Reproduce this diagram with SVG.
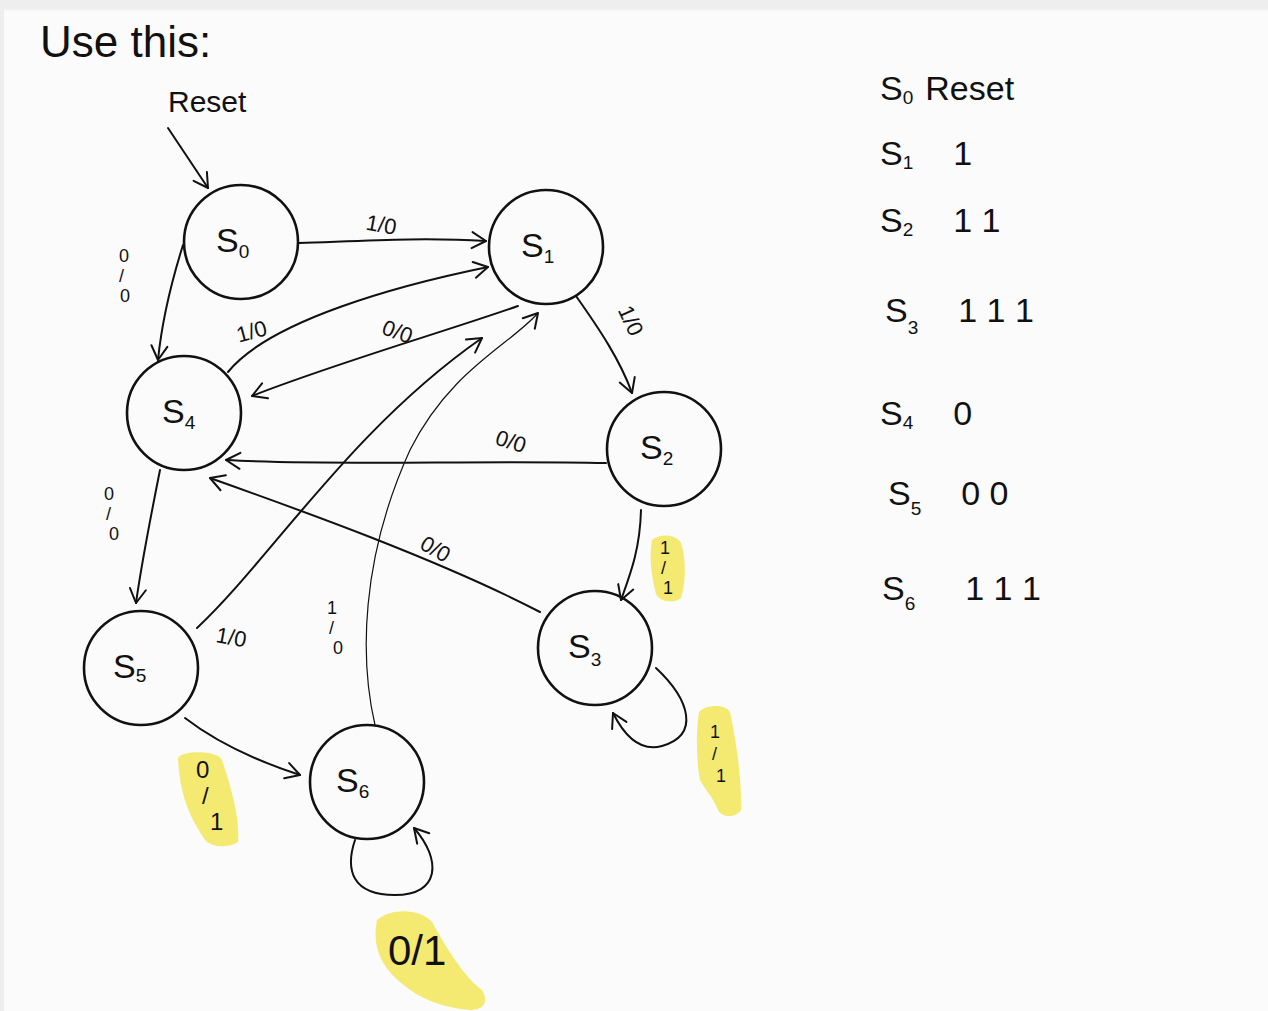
<svg xmlns="http://www.w3.org/2000/svg" width="1268" height="1011" viewBox="0 0 1268 1011">
  <style>
    .hand { font-family: "Liberation Sans", "DejaVu Sans", sans-serif; fill: #111; }
    .state { fill: none; stroke: #111; stroke-width: 2.6; }
    .name { font-size: 34px; }
    .sub { font-size: 19px; }
    .lbl { font-size: 22px; }
    .frac { font-size: 18px; }
    .edge { fill: none; stroke: #111; stroke-width: 2; stroke-linecap: round; stroke-linejoin: round; }
    .thin { stroke-width: 1.2; }
    .hl { fill: #f4ea72; }
    .tbl { font-size: 34px; }
  </style>
  <defs>
    <marker id="open" viewBox="-16 -10 20 20" markerWidth="20" markerHeight="20" refX="0" refY="0" orient="auto" markerUnits="userSpaceOnUse">
      <path d="M-14,-8 L0,0 L-14,8" fill="none" stroke="#111" stroke-width="2" stroke-linecap="round" stroke-linejoin="round"/>
    </marker>
  </defs>

  <!-- page -->
  <rect width="1268" height="1011" fill="#fbfbfb"/>
  <rect width="1268" height="9" fill="#eeeeee"/>
  <rect y="9" width="1268" height="2" fill="#f6f6f6"/>
  <rect width="4" height="1011" fill="#eeeeee"/>

  <!-- highlighter strokes behind labels -->
  <g id="highlights">
    <path class="hl" d="M652,540 C660,533 676,534 681,543 C687,562 685,585 681,598 C674,604 660,602 656,594 C651,575 649,556 652,540 Z"/>
    <path class="hl" d="M699,712 C706,704 726,704 730,712 C736,740 742,780 741,810 C736,818 722,818 718,810 C712,795 705,790 700,780 C696,760 696,730 699,712 Z"/>
    <path class="hl" d="M178,758 C182,750 218,750 222,760 C232,790 240,820 238,842 C230,848 212,848 205,840 C192,820 180,800 178,758 Z"/>
    <path class="hl" d="M377,920 C390,908 420,908 432,922 C445,945 462,975 482,990 C488,1000 486,1010 470,1010 C445,1008 420,1000 400,982 C380,965 372,945 377,920 Z"/>
  </g>

  <!-- heading -->
  <text class="hand" x="40" y="57" font-size="44">Use this:</text>

  <!-- connectors -->
  <g id="connectors">
    <path class="edge" d="M168,128 L208,188" marker-end="url(#open)"/>
    <path class="edge" d="M299,243 C360,241 420,237 486,241" marker-end="url(#open)"/>
    <path class="edge" d="M183,245 C172,280 162,320 158,360" marker-end="url(#open)"/>
    <path class="edge" d="M228,372 C270,320 400,285 488,267" marker-end="url(#open)"/>
    <path class="edge" d="M518,306 C450,330 330,365 252,396" marker-end="url(#open)"/>
    <path class="edge" d="M576,296 C600,330 620,360 632,393" marker-end="url(#open)"/>
    <path class="edge" d="M606,463 C480,460 330,466 226,460" marker-end="url(#open)"/>
    <path class="edge" d="M641,510 C640,550 630,575 621,600" marker-end="url(#open)"/>
    <path class="edge" d="M540,612 C440,560 300,510 210,478" marker-end="url(#open)"/>
    <path class="edge" d="M656,668 C690,700 700,735 662,746 C640,752 624,735 613,713" marker-end="url(#open)"/>
    <path class="edge" d="M160,470 C150,520 142,560 136,603" marker-end="url(#open)"/>
    <path class="edge" d="M197,628 C270,560 350,430 482,338" marker-end="url(#open)"/>
    <path class="edge thin" d="M375,725 C360,660 360,560 410,450 C450,370 510,345 538,313" marker-end="url(#open)"/>
    <path class="edge" d="M185,718 C220,745 260,762 300,775" marker-end="url(#open)"/>
    <path class="edge" d="M355,840 C345,870 352,895 395,895 C440,895 442,860 414,828" marker-end="url(#open)"/>
  </g>

  <!-- connector labels -->
  <g id="edge-labels" class="hand lbl">
    <text x="168" y="112" font-size="30">Reset</text>
    <text x="366" y="232" transform="rotate(10 380 225)">1/0</text>
    <text class="frac" x="119" y="262"><tspan>0</tspan><tspan x="119" dy="20">/</tspan><tspan x="120" dy="20">0</tspan></text>
    <text x="236" y="338" transform="rotate(-15 255 330)">1/0</text>
    <text x="383" y="340" transform="rotate(20 400 330)">0/0</text>
    <text x="615" y="330" transform="rotate(65 632 322)">1/0</text>
    <text x="495" y="452" transform="rotate(18 520 445)">0/0</text>
    <text class="frac" x="660" y="554"><tspan>1</tspan><tspan x="661" dy="20">/</tspan><tspan x="663" dy="20">1</tspan></text>
    <text x="420" y="558" transform="rotate(30 438 550)">0/0</text>
    <text class="frac" x="710" y="738"><tspan>1</tspan><tspan x="712" dy="22">/</tspan><tspan x="716" dy="22">1</tspan></text>
    <text class="frac" x="104" y="500"><tspan>0</tspan><tspan x="106" dy="20">/</tspan><tspan x="109" dy="20">0</tspan></text>
    <text x="216" y="645" transform="rotate(10 232 638)">1/0</text>
    <text class="frac" x="327" y="614"><tspan>1</tspan><tspan x="329" dy="20">/</tspan><tspan x="333" dy="20">0</tspan></text>
    <text x="196" y="778" font-size="24"><tspan>0</tspan><tspan x="202" dy="26">/</tspan><tspan x="210" dy="26">1</tspan></text>
    <text x="388" y="965" font-size="42">0/1</text>
  </g>

  <!-- states -->
  <g id="s0"><circle class="state" cx="241" cy="242" r="57"/><text class="hand name" x="216" y="252">S<tspan class="sub" dy="6">0</tspan></text></g>
  <g id="s1"><circle class="state" cx="546" cy="247" r="57"/><text class="hand name" x="521" y="257">S<tspan class="sub" dy="6">1</tspan></text></g>
  <g id="s2"><circle class="state" cx="664" cy="449" r="57"/><text class="hand name" x="640" y="459">S<tspan class="sub" dy="6">2</tspan></text></g>
  <g id="s3"><circle class="state" cx="595" cy="648" r="57"/><text class="hand name" x="568" y="658">S<tspan class="sub" dy="8">3</tspan></text></g>
  <g id="s4"><circle class="state" cx="184" cy="413" r="57"/><text class="hand name" x="162" y="423">S<tspan class="sub" dy="6">4</tspan></text></g>
  <g id="s5"><circle class="state" cx="141" cy="668" r="57"/><text class="hand name" x="113" y="678">S<tspan class="sub" dy="4">5</tspan></text></g>
  <g id="s6"><circle class="state" cx="367" cy="782" r="57"/><text class="hand name" x="336" y="792">S<tspan class="sub" dy="6">6</tspan></text></g>

  <!-- encoding notes -->
  <g id="notes" class="hand tbl">
    <text x="880" y="100">S<tspan class="sub" dy="4">0</tspan><tspan dx="12" dy="-4">Reset</tspan></text>
    <text x="880" y="165">S<tspan class="sub" dy="4">1</tspan><tspan dx="40" dy="-4">1</tspan></text>
    <text x="880" y="232">S<tspan class="sub" dy="4">2</tspan><tspan dx="40" dy="-4">1 1</tspan></text>
    <text x="885" y="322">S<tspan class="sub" dy="12">3</tspan><tspan dx="40" dy="-12">1  1  1</tspan></text>
    <text x="880" y="425">S<tspan class="sub" dy="4">4</tspan><tspan dx="40" dy="-4">0</tspan></text>
    <text x="888" y="505">S<tspan class="sub" dy="10">5</tspan><tspan dx="40" dy="-10">0    0</tspan></text>
    <text x="882" y="600">S<tspan class="sub" dy="10">6</tspan><tspan dx="50" dy="-10">1  1  1</tspan></text>
  </g>
</svg>
